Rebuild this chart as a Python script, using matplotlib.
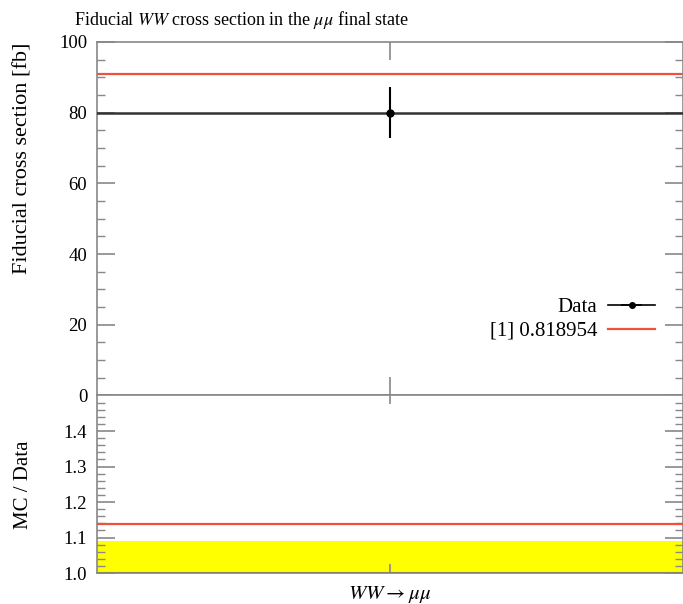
import matplotlib
matplotlib.use("Agg")
import matplotlib.pyplot as plt
import numpy as np

plt.rcParams['font.family'] = ['Liberation Serif', 'DejaVu Serif']
plt.rcParams['mathtext.fontset'] = 'stix'

# one bin, fiducial WW -> mumu
bin_labels = [r'$WW \rightarrow \mu\mu$']
bin_edges = [0.0, 1.0]
data_val = [80.0]
data_err = [7.3]
mc_val = [91.0]
mc_label = '[1] 0.818954'

red = '#f0503c'
gray = '#888888'

fig = plt.figure(figsize=(6.83, 6.04), dpi=100)
ax = fig.add_axes([0.142, 0.3452, 0.858, 0.5853])
rx = fig.add_axes([0.142, 0.0513, 0.858, 0.2939], sharex=ax)

xc = 0.5 * (bin_edges[0] + bin_edges[1])

# main panel
ax.plot(bin_edges, [data_val[0]] * 2, color='#333333', lw=1.8, zorder=3)
ax.errorbar([xc], data_val, yerr=data_err, fmt='o', color='black', ms=5,
            elinewidth=1.5, capsize=0, zorder=4)
ax.plot(bin_edges, [mc_val[0]] * 2, color=red, lw=1.6, zorder=2)

# legend handles
h1 = ax.errorbar([], [], xerr=[], fmt='o-', color='black', ms=4, lw=1.2)
h2, = ax.plot([], [], color=red, lw=1.6)
leg = ax.legend([h1, h2], ['Data', mc_label], loc='upper right',
                bbox_to_anchor=(0.985, 0.33), frameon=False, markerfirst=False,
                fontsize=15, handlelength=2.3, handletextpad=0.5,
                labelspacing=0.2)

ax.set_xlim(0, 1)
ax.set_ylim(0, 100)
ax.set_yticks(np.arange(0, 101, 20))
ax.set_yticks(np.arange(0, 101, 5), minor=True)
ax.set_xticks([xc])
ax.tick_params(axis='both', which='both', direction='in', top=True, right=True,
               color=gray, labelsize=13.5, pad=7)
ax.tick_params(axis='both', which='major', length=13, width=1.2)
ax.tick_params(axis='both', which='minor', length=6, width=1.0)
ax.tick_params(axis='x', labelbottom=False)
ax.set_ylabel('Fiducial cross section [fb]', fontsize=16, ha='right')
ax.yaxis.set_label_coords(-0.11, 0.997)

# ratio panel
ratio_mc = [m / d for m, d in zip(mc_val, data_val)]
rel_err = [e / d for e, d in zip(data_err, data_val)]
rx.fill_between(bin_edges, [1 - rel_err[0]] * 2, [1 + rel_err[0]] * 2,
                color='#ffff00', lw=0, zorder=1)
rx.plot(bin_edges, [1.0] * 2, color='#777700', lw=1.5, zorder=2)
rx.plot(bin_edges, [ratio_mc[0]] * 2, color=red, lw=1.6, zorder=3)
rx.set_ylim(1.0, 1.5)
rx.set_yticks([1.0, 1.1, 1.2, 1.3, 1.4])
rx.set_yticks(np.arange(1.0, 1.5, 0.02), minor=True)
rx.set_xticks([xc])
rx.set_xticklabels(bin_labels)
rx.tick_params(axis='both', which='both', direction='in', top=True, right=True,
               color=gray, labelsize=13.5, pad=7)
rx.tick_params(axis='both', which='major', length=13, width=1.2)
rx.tick_params(axis='y', which='minor', length=6, width=1.0)
rx.tick_params(axis='x', which='major', length=6.5, labelsize=15, pad=8)
rx.set_ylabel('MC / Data', fontsize=15)
rx.yaxis.set_label_coords(-0.11, 0.5)

for a in (ax, rx):
    for s in a.spines.values():
        s.set_color(gray)
        s.set_linewidth(1.2)

fig.text(0.108, 0.967, r'Fiducial $WW$ cross section in the $\mu\mu$ final state',
         fontsize=13, ha='left', va='center')

fig.savefig('out.png', dpi=100)
